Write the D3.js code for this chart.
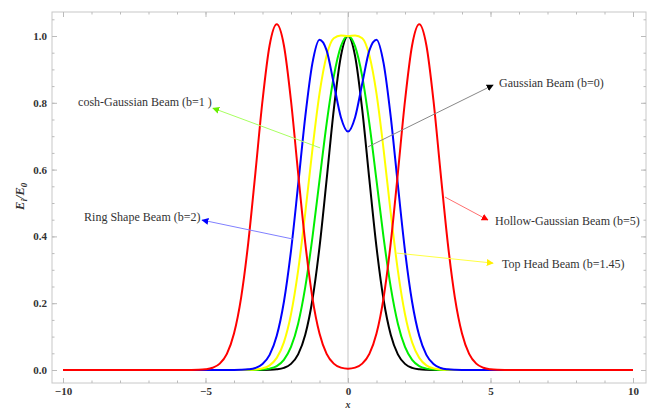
<!DOCTYPE html>
<html>
<head>
<meta charset="utf-8">
<script src="https://cdn.jsdelivr.net/npm/d3@7/dist/d3.min.js"></script>
<style>
  html, body { margin: 0; padding: 0; background: #fff; }
  svg { display: block; }
</style>
</head>
<body>
<svg id="chart" width="652" height="410"></svg>
<script>
// ---------- data ----------
const xValues = [-10,-6,-5.75,-5.5,-5.25,-5,-4.75,-4.5,-4.25,-4,-3.75,-3.5,-3.25,-3,-2.75,-2.5,-2.25,-2,-1.75,-1.5,-1.25,-1,-0.75,-0.5,-0.25,0,0.25,0.5,0.75,1,1.25,1.5,1.75,2,2.25,2.5,2.75,3,3.25,3.5,3.75,4,4.25,4.5,4.75,5,5.25,5.5,5.75,6,10];

const gaussianB0 = [0,0,0,0,0,0,0,0,0,0,0,0,0,0.0001,0.0005,0.0019,0.0063,0.0183,0.0468,0.1054,0.2096,0.3679,0.5698,0.7788,0.9394,1,0.9394,0.7788,0.5698,0.3679,0.2096,0.1054,0.0468,0.0183,0.0063,0.0019,0.0005,0.0001,0,0,0,0,0,0,0,0,0,0,0,0,0];

const coshGaussianB1 = [0,0,0,0,0,0,0,0,0,0,0,0.0001,0.0003,0.0012,0.0041,0.0118,0.0304,0.0689,0.1386,0.2480,0.3958,0.5677,0.7377,0.8782,0.9687,1,0.9687,0.8782,0.7377,0.5677,0.3958,0.2480,0.1386,0.0689,0.0304,0.0118,0.0041,0.0012,0.0003,0.0001,0,0,0,0,0,0,0,0,0,0,0];

const topHeadB145 = [0,0,0,0,0,0,0,0,0,0,0.0001,0.0004,0.0014,0.0048,0.0140,0.0363,0.0828,0.1670,0.2976,0.4700,0.6592,0.8273,0.9415,0.9930,1.0018,1.0,1.0018,0.9930,0.9415,0.8273,0.6592,0.4700,0.2976,0.1670,0.0828,0.0363,0.0140,0.0048,0.0014,0.0004,0.0001,0,0,0,0,0,0,0,0,0,0];

const ringB2 = [0,0,0,0,0,0,0,0,0,0.0001,0.0005,0.0019,0.0061,0.0178,0.0454,0.1023,0.2035,0.357,0.554,0.758,0.918,0.989,0.957,0.858,0.757,0.714,0.757,0.858,0.957,0.989,0.918,0.758,0.554,0.357,0.2035,0.1023,0.0454,0.0178,0.0061,0.0019,0.0005,0.0001,0,0,0,0,0,0,0,0,0];

const hollowB5 = [0,0,0,0.0001,0.0005,0.0020,0.0066,0.0190,0.0484,0.1091,0.2169,0.3808,0.5897,0.8061,0.9723,1.035,0.9723,0.8061,0.5897,0.3808,0.2169,0.1091,0.0484,0.0191,0.0071,0.0040,0.0071,0.0191,0.0484,0.1091,0.2169,0.3808,0.5897,0.8061,0.9723,1.035,0.9723,0.8061,0.5897,0.3808,0.2169,0.1091,0.0484,0.0190,0.0066,0.0020,0.0005,0.0001,0,0,0];

const xTicks = [-10, -5, 0, 5, 10];
const xTickLabels = ["\u221210", "\u22125", "0", "5", "10"];
const yTicks = [0, 0.2, 0.4, 0.6, 0.8, 1.0];
const yTickLabels = ["0.0", "0.2", "0.4", "0.6", "0.8", "1.0"];

// drawing order: bottom to top
const seriesNames = ["Gaussian Beam (b=0)", "cosh-Gaussian Beam (b=1 )", "Top Head Beam (b=1.45)", "Ring Shape Beam (b=2)", "Hollow-Gaussian Beam (b=5)"];
const seriesValues = [gaussianB0, coshGaussianB1, topHeadB145, ringB2, hollowB5];

// ---------- layout ----------
const svg = d3.select("#chart");
const frame = { left: 52, right: 646, top: 12, bottom: 383 };
const x = d3.scaleLinear().domain([-10, 10]).range([63, 633]);
const y = d3.scaleLinear().domain([0, 1]).range([370, 36]);
const colors = ["#000000", "#00ee00", "#ffff00", "#0000ff", "#ff0000"];

// frame
const frameColor = "#c8c8c8";
svg.append("rect")
  .attr("x", frame.left).attr("y", frame.top)
  .attr("width", frame.right - frame.left).attr("height", frame.bottom - frame.top)
  .attr("fill", "none").attr("stroke", frameColor).attr("stroke-width", 1);

// vertical axis line at x=0
svg.append("line")
  .attr("x1", x(0)).attr("x2", x(0)).attr("y1", frame.top).attr("y2", frame.bottom)
  .attr("stroke", "#d8d8d8").attr("stroke-width", 1.5);

// ticks via d3 axes (inward)
const xMinor = d3.range(-10, 10.01, 1);
const yMinor = d3.range(0, 1.051, 0.05);
function styleAxis(g) {
  g.select(".domain").remove();
  g.selectAll(".tick line").attr("stroke", "#bbbbbb");
}
const tickFont = g => g.selectAll("text").attr("font-family", "Liberation Serif")
  .attr("font-weight", "bold").attr("font-size", 11).attr("fill", "#333");
svg.append("g").attr("transform", `translate(0,${frame.bottom})`)
  .call(d3.axisBottom(x).tickValues(xMinor).tickSize(-2.5).tickFormat(""))
  .call(styleAxis);
svg.append("g").attr("transform", `translate(0,${frame.bottom})`)
  .call(d3.axisBottom(x).tickValues(xTicks).tickSize(-5).tickPadding(4)
    .tickFormat((d, i) => xTickLabels[i]))
  .call(styleAxis).call(tickFont);
svg.append("g").attr("transform", `translate(0,${frame.top})`)
  .call(d3.axisTop(x).tickValues(xMinor).tickSize(-2.5).tickFormat(""))
  .call(styleAxis);
svg.append("g").attr("transform", `translate(0,${frame.top})`)
  .call(d3.axisTop(x).tickValues(xTicks).tickSize(-5).tickFormat(""))
  .call(styleAxis);
svg.append("g").attr("transform", `translate(${frame.left},0)`)
  .call(d3.axisLeft(y).tickValues(yMinor).tickSize(-2.5).tickFormat(""))
  .call(styleAxis);
svg.append("g").attr("transform", `translate(${frame.left},0)`)
  .call(d3.axisLeft(y).tickValues(yTicks).tickSize(-5).tickPadding(5)
    .tickFormat((d, i) => yTickLabels[i]))
  .call(styleAxis).call(tickFont);
svg.append("g").attr("transform", `translate(${frame.right},0)`)
  .call(d3.axisRight(y).tickValues(yMinor).tickSize(-2.5).tickFormat(""))
  .call(styleAxis);
svg.append("g").attr("transform", `translate(${frame.right},0)`)
  .call(d3.axisRight(y).tickValues(yTicks).tickSize(-5).tickFormat(""))
  .call(styleAxis);

// axis labels
const yl = svg.append("text")
  .attr("transform", `translate(24,${y(0.52)}) rotate(-90)`)
  .attr("text-anchor", "middle")
  .attr("font-family", "Liberation Serif").attr("font-style", "italic").attr("font-weight", "bold")
  .attr("font-size", 12.5).attr("fill", "#333");
yl.append("tspan").text("E");
yl.append("tspan").attr("font-size", 9).attr("dy", 3).text("i");
yl.append("tspan").attr("dy", -3).text("/E");
yl.append("tspan").attr("font-size", 9).attr("dy", 3).text("0");

svg.append("text")
  .attr("x", x(0)).attr("y", 408)
  .attr("text-anchor", "middle")
  .attr("font-family", "Liberation Serif").attr("font-style", "italic").attr("font-weight", "bold")
  .attr("font-size", 10).attr("fill", "#333").text("x");

// curves
const line = d3.line().x(d => x(d[0])).y(d => y(d[1])).curve(d3.curveMonotoneX);
seriesValues.forEach((vals, i) => {
  svg.append("path")
    .datum(xValues.map((xv, j) => [xv, vals[j]]))
    .attr("d", line)
    .attr("fill", "none")
    .attr("stroke", colors[i])
    .attr("stroke-width", 2)
    .attr("stroke-linejoin", "round");
});

// annotations (data coordinates)
const annotations = [
  { text: seriesNames[1], tx: -9.47, ty: 0.80, from: [-0.98, 0.665], to: [-4.74, 0.784], line: "#a8ff60", head: "#66ee00" },
  { text: seriesNames[3], tx: -9.26, ty: 0.455, from: [-1.93, 0.392], to: [-5.12, 0.449], line: "#8080ff", head: "#0000ff" },
  { text: seriesNames[0], tx: 5.30, ty: 0.856, from: [0.70, 0.668], to: [5.09, 0.853], line: "#888888", head: "#000000" },
  { text: seriesNames[4], tx: 5.16, ty: 0.443, from: [3.40, 0.518], to: [4.91, 0.449], line: "#ff7070", head: "#ff0000" },
  { text: seriesNames[2], tx: 5.40, ty: 0.314, from: [1.72, 0.350], to: [5.09, 0.320], line: "#ffff40", head: "#ffee00" }
];
const defs = svg.append("defs");
annotations.forEach((a, i) => {
  defs.append("marker")
    .attr("id", "arr" + i)
    .attr("viewBox", "0 0 10 10").attr("refX", 9).attr("refY", 5)
    .attr("markerWidth", 7).attr("markerHeight", 7).attr("markerUnits", "userSpaceOnUse")
    .attr("orient", "auto")
    .append("path").attr("d", "M0,0 L10,5 L0,10 z").attr("fill", a.head);
  svg.append("line")
    .attr("x1", x(a.from[0])).attr("y1", y(a.from[1]))
    .attr("x2", x(a.to[0])).attr("y2", y(a.to[1]))
    .attr("stroke", a.line).attr("stroke-width", 1)
    .attr("marker-end", `url(#arr${i})`);
  svg.append("text")
    .attr("x", x(a.tx)).attr("y", y(a.ty))
    .attr("dominant-baseline", "middle")
    .attr("font-family", "Liberation Serif").attr("font-size", 12)
    .attr("fill", "#333").text(a.text);
});
</script>
</body>
</html>
